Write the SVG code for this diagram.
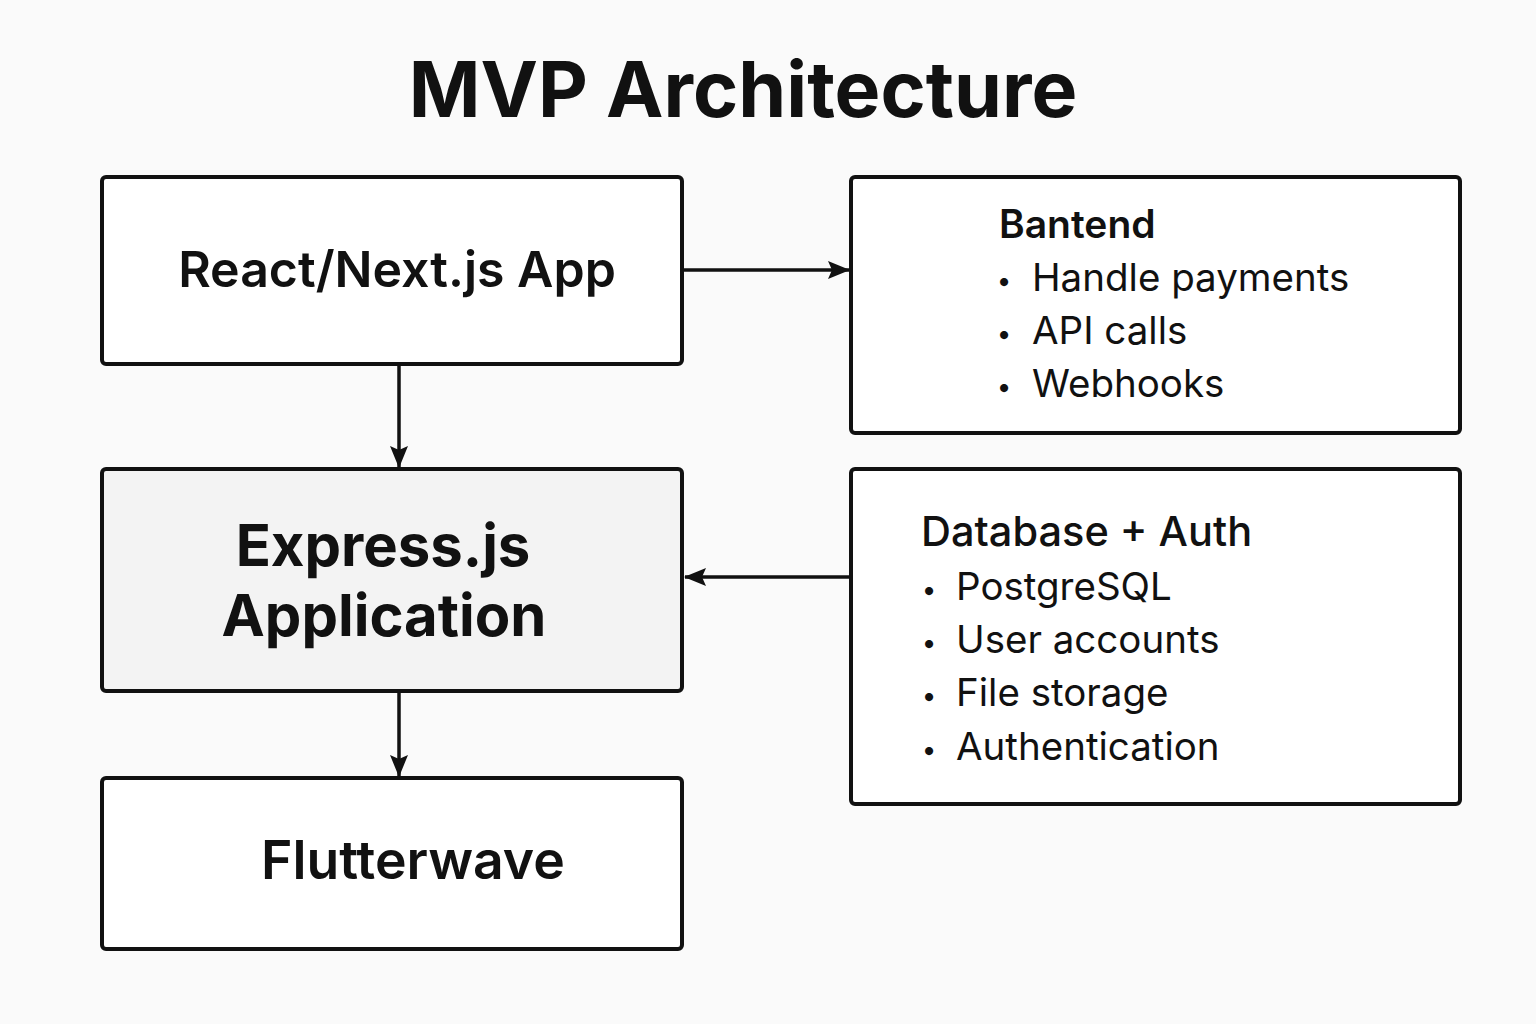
<svg xmlns="http://www.w3.org/2000/svg" width="1536" height="1024" viewBox="0 0 1536 1024">
<style>
.box{fill:#ffffff;stroke:#111;stroke-width:4}
.t{font-family:Inter,"Noto Sans","Liberation Sans",sans-serif;fill:#111}
.b{font-family:Inter,"Noto Sans","Liberation Sans",sans-serif;fill:#111;font-size:26px;text-anchor:middle}
.c{stroke:#111;stroke-width:3.5;fill:none}
</style>
<defs>
<marker id="ah" markerWidth="22" markerHeight="18" refX="21" refY="9" orient="auto" markerUnits="userSpaceOnUse" viewBox="0 0 22 18">
<path d="M0,0 L22,9 L0,18 L4,9 Z" fill="#111"/>
</marker>
</defs>
<rect width="1536" height="1024" fill="#fafafa"/>
<text class="t" x="743" y="117" font-size="77" font-weight="700" text-anchor="middle">MVP Architecture</text>
<g id="react">
<rect class="box" x="102" y="177" width="580" height="187" rx="4"/>
<text class="t" x="397" y="287" font-size="50" font-weight="600" text-anchor="middle">React/Next.js App</text>
</g>
<g id="backend">
<rect class="box" x="851" y="177" width="609" height="256" rx="4"/>
<text class="t" x="999" y="238" font-size="39" font-weight="600">Bantend</text>
<text class="b" x="1004" y="290">•</text>
<text class="t" x="1032" y="291" font-size="38.5">Handle payments</text>
<text class="b" x="1004" y="343">•</text>
<text class="t" x="1032" y="344" font-size="38.5">API calls</text>
<text class="b" x="1004" y="396">•</text>
<text class="t" x="1032" y="397" font-size="38.5">Webhooks</text>
</g>
<g id="express">
<rect class="box" x="102" y="469" width="580" height="222" rx="4" style="fill:#f3f3f3"/>
<text class="t" x="383" y="566" font-size="58" font-weight="700" text-anchor="middle">Express.js</text>
<text class="t" x="384" y="636" font-size="58" font-weight="700" text-anchor="middle">Application</text>
</g>
<g id="db">
<rect class="box" x="851" y="469" width="609" height="335" rx="4"/>
<text class="t" x="921" y="546" font-size="41.5" font-weight="500">Database + Auth</text>
<text class="b" x="929" y="599">•</text>
<text class="t" x="956" y="600" font-size="38.5">PostgreSQL</text>
<text class="b" x="929" y="652">•</text>
<text class="t" x="956" y="653" font-size="38.5">User accounts</text>
<text class="b" x="929" y="705">•</text>
<text class="t" x="956" y="706" font-size="38.5">File storage</text>
<text class="b" x="929" y="759">•</text>
<text class="t" x="956" y="760" font-size="38.5">Authentication</text>
</g>
<g id="flutterwave">
<rect class="box" x="102" y="778" width="580" height="171" rx="4"/>
<text class="t" x="413" y="879" font-size="53.5" font-weight="600" text-anchor="middle">Flutterwave</text>
</g>
<g id="connectors">
<line class="c" x1="684" y1="270" x2="849" y2="270" marker-end="url(#ah)"/>
<line class="c" x1="399" y1="366" x2="399" y2="467" marker-end="url(#ah)"/>
<line class="c" x1="849" y1="577" x2="685" y2="577" marker-end="url(#ah)"/>
<line class="c" x1="399" y1="693" x2="399" y2="776" marker-end="url(#ah)"/>
</g>
</svg>
